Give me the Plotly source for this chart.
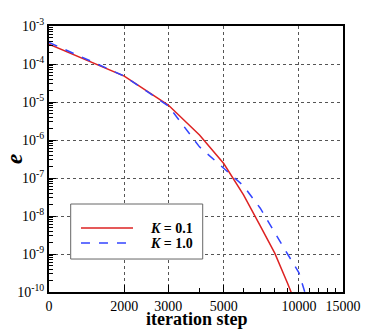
import plotly.graph_objects as go

# x positions on the log axis (the first position is labelled "0")
steps = [1000, 2000, 3000, 4000, 5000, 6000, 7000, 8000, 9000, 10000, 11000]
err_k01 = [3.3e-4, 4.8e-5, 8.3e-6, 1.35e-6, 2.4e-7, 3.6e-8, 5.5e-9, 1.05e-9, 1.7e-10, 3e-11, None]
err_k10 = [3.7e-4, 4.8e-5, 7.9e-6, 6.6e-7, 1.8e-7, 6.2e-8, 1.6e-8, 3.5e-9, 1.0e-9, 3.2e-10, 4e-11]

series_names = ["<b><i>K</i> = 0.1</b>", "<b><i>K</i> = 1.0</b>"]
series_colors = ["#dd2222", "#3344ff"]
series_dash = ["solid", "dash"]

x_tickvals = [1000, 2000, 3000, 5000, 10000, 15000]
x_ticktext = ["0", "2000", "3000", "5000", "10000", "15000"]
x_minor = [4000, 6000, 7000, 8000, 9000, 11000, 12000, 13000, 14000]
y_exponents = [-10, -9, -8, -7, -6, -5, -4, -3]

serif = "Liberation Serif, Times New Roman, serif"

fig = go.Figure()
for ys, nm, col, ds in zip([err_k01, err_k10], series_names, series_colors, series_dash):
    fig.add_trace(go.Scatter(x=steps, y=ys, mode="lines", name=nm, showlegend=False,
                             line=dict(color=col, width=1.5, dash=ds)))

# hand-drawn legend box (paper coordinates) to match the compact spacing
shapes = [dict(type="rect", xref="paper", yref="paper", x0=0.0738, x1=0.5228,
               y0=0.124, y1=0.3308, line=dict(color="#666666", width=1),
               fillcolor="white", layer="above")]
annotations = []
legend_rows = [0.2406, 0.1842]
for yy, nm, col, ds in zip(legend_rows, series_names, series_colors, series_dash):
    shapes.append(dict(type="line", xref="paper", yref="paper", x0=0.1088, x1=0.2857,
                       y0=yy, y1=yy, line=dict(color=col, width=1.5, dash=ds),
                       layer="above"))
    annotations.append(dict(text=nm, xref="paper", yref="paper", x=0.3367, y=yy,
                            xanchor="left", yanchor="middle", showarrow=False,
                            font=dict(size=14, family=serif)))

annotations += [
    dict(text="<b>iteration step</b>", xref="paper", yref="paper",
         x=0.5, y=0, yshift=-27, xanchor="center", yanchor="middle",
         showarrow=False, font=dict(size=18, family=serif)),
    dict(text="<b><i>e</i></b>", xref="paper", yref="paper",
         x=0, y=0.5, xshift=-35, xanchor="center", yanchor="middle",
         showarrow=False, textangle=-90, font=dict(size=23, family=serif)),
]

fig.update_layout(
    width=366, height=324,
    margin=dict(l=41, r=31, t=18, b=40, autoexpand=False),
    plot_bgcolor="white", paper_bgcolor="white",
    font=dict(family=serif, size=14, color="black"),
    showlegend=False,
    shapes=shapes,
    annotations=annotations,
)

fig.update_xaxes(type="log", range=[3, 4.1761], automargin=False,
                 tickmode="array", tickvals=x_tickvals, ticktext=x_ticktext,
                 ticks="inside", ticklen=7, tickcolor="black",
                 showline=True, linecolor="black", linewidth=2, mirror=True,
                 showgrid=True, gridcolor="#555555", griddash="dot", gridwidth=1,
                 minor=dict(tickmode="array", tickvals=x_minor, ticks="inside",
                            ticklen=4, tickcolor="black", showgrid=False),
                 tickfont=dict(size=14, family=serif),
                 zeroline=False)

fig.update_yaxes(type="log", range=[-10, -3], automargin=False,
                 tickmode="array", tickvals=[10.0 ** e for e in y_exponents],
                 ticktext=["10<sup>%d</sup>" % e for e in y_exponents],
                 ticks="inside", ticklen=7, tickcolor="black",
                 showline=True, linecolor="black", linewidth=2, mirror=True,
                 showgrid=True, gridcolor="#555555", griddash="dot", gridwidth=1,
                 minor=dict(dtick="D1", ticks="inside", ticklen=4,
                            tickcolor="black", showgrid=False),
                 tickfont=dict(size=14, family=serif),
                 zeroline=False)

fig.write_html("out.html")
